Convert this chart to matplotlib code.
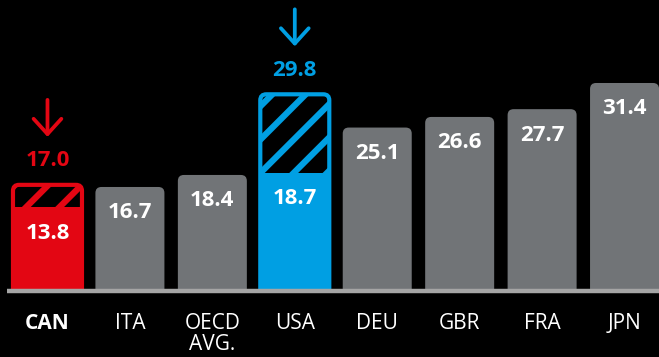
import matplotlib
matplotlib.use("Agg")
import matplotlib.pyplot as plt
from matplotlib.patches import FancyBboxPatch, Rectangle

plt.rcParams['font.family'] = ['Open Sans', 'DejaVu Sans']
plt.rcParams['hatch.linewidth'] = 4.5

countries = ['CAN', 'ITA', 'OECD\nAVG.', 'USA', 'DEU', 'GBR', 'FRA', 'JPN']
values = [13.8, 16.7, 18.4, 18.7, 25.1, 26.6, 27.7, 31.4]
# projected totals shown as hatched extensions
projected = {0: 17.0, 3: 29.8}

RED = '#e30613'
BLUE = '#009fe3'
GRAY = '#717477'
colors = [RED, GRAY, GRAY, BLUE, GRAY, GRAY, GRAY, GRAY]

fig = plt.figure(figsize=(6.59, 3.57), dpi=100, facecolor='black')
ax = fig.add_axes([0, 0.1905, 1, 0.8095], facecolor='black')
y0, y1 = 2.28, 43.13
ax.set_xlim(-0.576, 7.418)
ax.set_ylim(y0, y1)

px_x = 82.43   # pixels per x unit
px_y = 7.075   # pixels per y unit
width = 0.837
rad = 6 / px_x
aspect = px_x / px_y

def rounded_bar(x, h, **kw):
    p = FancyBboxPatch((x - width / 2, 0), width, h,
                       boxstyle=f"round,pad=0,rounding_size={rad}",
                       mutation_aspect=aspect, **kw)
    ax.add_patch(p)
    return p

for i, (v, c) in enumerate(zip(values, colors)):
    if i in projected:
        rounded_bar(i, projected[i], facecolor='black', edgecolor=c,
                    linewidth=3, hatch='/')
        ax.add_patch(Rectangle((i - width / 2 - 0.01, 0), width + 0.02, v,
                               facecolor=c, edgecolor='none', zorder=3))
        top = projected[i]
        ax.text(i, top + 24 / px_y, f"{top:.1f}", color=c, fontsize=16,
                fontweight='bold', ha='center', va='center')
        ax.annotate('', xy=(i, top + 48 / px_y), xytext=(i, top + 85 / px_y),
                    arrowprops=dict(arrowstyle='->,head_length=0.55,head_width=0.5',
                                    color=c, lw=2.7, mutation_scale=20,
                                    shrinkA=0, shrinkB=0))
    else:
        rounded_bar(i, v, facecolor=c, edgecolor='none')
    ax.text(i, v - 26 / px_y, f"{v:.1f}", color='white', fontsize=16,
            fontweight='bold', ha='center', va='center', zorder=4)

# baseline
ax.plot([-0.49, 7.5], [y0 - 0.3, y0 - 0.3], color='#a5a5a5', lw=3.2,
        clip_on=False, solid_capstyle='butt', zorder=5)

ax.set_xticks(range(len(countries)))
ax.set_xticklabels(countries, color='white', fontsize=15, linespacing=1.0)
ax.get_xticklabels()[0].set_fontweight('bold')
ax.tick_params(axis='x', length=0, pad=17)
ax.set_yticks([])
for s in ax.spines.values():
    s.set_visible(False)

fig.savefig('out.png', dpi=100, facecolor='black')
